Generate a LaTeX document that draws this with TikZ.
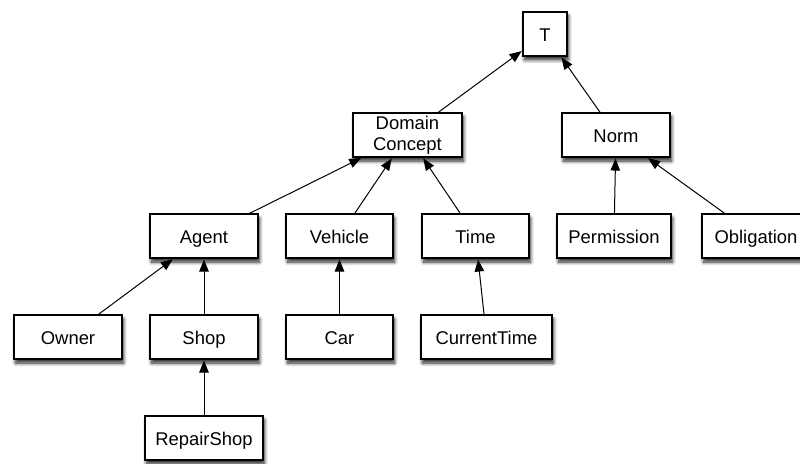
\documentclass[tikz,border=0pt]{standalone}
\usepackage{fontspec}
\setmainfont{Liberation Sans}
\usetikzlibrary{arrows.meta,shadows.blur}
\begin{document}
\begin{tikzpicture}[x=1bp,y=-1bp,
  basebox/.style={draw=black, line width=1.1bp, fill=white, minimum height=44bp,
    minimum width=108bp, inner sep=0pt, align=center,
    font=\fontsize{18.5}{21}\selectfont, text=black,
    blur shadow={shadow xshift=1.5bp, shadow yshift=-4bp, shadow blur radius=3.5bp, shadow blur steps=8, shadow opacity=85}},
  box/.style={basebox, text height=14.5bp, text depth=0pt},
  arr/.style={draw=black, line width=1bp, -{Triangle[length=12bp,width=9.5bp]}, shorten >=1bp}]
\useasboundingbox (0,0) rectangle (800,464);
\node[box, minimum width=44bp] (T) at (545,34) {T};
\node[basebox, minimum width=109bp] (DC) at (407.5,135) {Domain\\Concept};
\node[box] (Norm) at (616,135) {Norm};
\node[box] (Agent) at (204,236) {Agent};
\node[box, minimum width=107bp] (Vehicle) at (339.5,236) {Vehicle};
\node[box, minimum width=107bp] (Time) at (475.5,236) {Time};
\node[box, minimum width=114bp] (Permission) at (614,236) {Permission};
\node[box] (Obligation) at (756,236) {Obligation};
\node[box] (Owner) at (68,337) {Owner};
\node[box] (Shop) at (204,337) {Shop};
\node[box, minimum width=107bp] (Car) at (339.5,337) {Car};
\node[box, minimum width=131bp] (CurrentTime) at (486.5,337) {CurrentTime};
\node[box, minimum width=118bp] (RepairShop) at (204,438) {RepairShop};
\draw[arr] (DC) -- (T);
\draw[arr] (Norm) -- (T);
\draw[arr] (Agent) -- (DC);
\draw[arr] (Vehicle) -- (DC);
\draw[arr] (Time) -- (DC);
\draw[arr] (Permission) -- (Norm);
\draw[arr] (Obligation) -- (Norm);
\draw[arr] (Owner) -- (Agent);
\draw[arr] (Shop) -- (Agent);
\draw[arr] (Car) -- (Vehicle);
\draw[arr] (CurrentTime) -- (Time);
\draw[arr] (RepairShop) -- (Shop);
\end{tikzpicture}
\end{document}
